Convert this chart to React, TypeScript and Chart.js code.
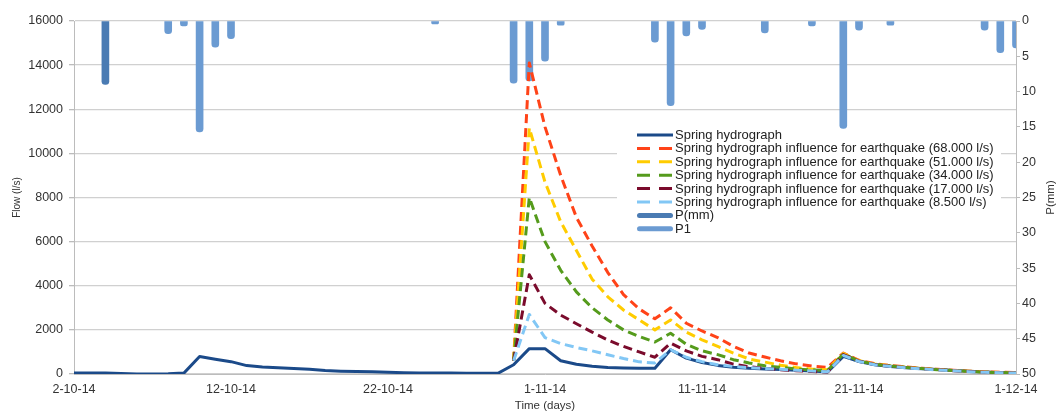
import React, { useEffect, useRef } from "react";
import { Chart, registerables } from "chart.js";

Chart.register(...registerables);

// ---------- categories ----------
const DATES: string[] = Array.from({ length: 61 }, (_, i) => {
  const d = new Date(2014, 9, 2 + i);
  return `${d.getDate()}-${d.getMonth() + 1}-${String(d.getFullYear()).slice(2)}`;
});
const TICK_LABELS = ["2-10-14", "12-10-14", "22-10-14", "1-11-14", "11-11-14", "21-11-14", "1-12-14"];

// ---------- series (l/s) ----------
const SPRING = [
  40, 45, 50, 20, 5, 5, 10, 40, 790, 670,
  560, 380, 320, 280, 250, 210, 160, 130, 110, 100,
  80, 60, 50, 40, 40, 35, 30, 30, 420, 1150,
  1150, 600, 440, 350, 290, 270, 260, 260, 1100, 720,
  520, 390, 310, 260, 230, 200, 170, 140, 90, 800,
  560, 420, 340, 280, 240, 200, 160, 120, 90, 60, 45,
];
const PRE = Array(28).fill(null);
const EQ68 = [...PRE,
  600, 14100, 11200, 9000, 7100, 5800, 4600, 3600, 2950, 2500,
  3000, 2300, 1950, 1650, 1250, 950, 770, 600, 460, 360,
  300, 950, 620, 470, 380, 320, 260, 210, 170, 130, 100, 80, 60];
const EQ51 = [...PRE,
  600, 11150, 8700, 6900, 5600, 4300, 3500, 2900, 2450, 2000,
  2450, 1900, 1550, 1250, 950, 680, 540, 400, 290, 220,
  190, 930, 600, 450, 370, 310, 250, 200, 160, 120, 90, 70, 55];
const EQ34 = [...PRE,
  600, 8000, 6000, 4700, 3720, 3000, 2450, 2000, 1700, 1450,
  1850, 1350, 1050, 880, 650, 500, 370, 300, 230, 180,
  160, 910, 590, 440, 360, 300, 245, 195, 155, 115, 85, 65, 50];
const EQ17 = [...PRE,
  600, 4500, 3200, 2670, 2280, 1900, 1540, 1250, 1000, 760,
  1400, 1050, 800, 650, 450, 330, 250, 190, 150, 110,
  90, 880, 580, 430, 350, 290, 240, 190, 150, 110, 80, 60, 45];
const EQ8 = [...PRE,
  600, 2700, 1650, 1380, 1200, 1050, 870, 700, 550, 500,
  1100, 760, 560, 420, 340, 290, 250, 210, 170, 140,
  100, 840, 570, 420, 340, 280, 230, 185, 145, 105, 75, 55, 40];

// ---------- precipitation (mm) ----------
const P_MM = [null, null, 9, ...Array(58).fill(null)];
const P1 = [
  null, null, null, null, null, null, 1.8, 0.7, 15.7, 3.7,
  2.5, null, null, null, null, null, null, null, null, null,
  null, null, null, 0.4, null, null, null, null, 8.8, 8.5,
  5.7, 0.6, null, null, null, null, null, 3.0, 12.0, 2.1,
  1.2, null, null, null, 1.7, null, null, 0.7, null, 15.2,
  1.3, null, 0.6, null, null, null, null, null, 1.3, 4.5, 3.8,
];

const FONT = "'Liberation Sans', Arial, sans-serif";
const TXT = "#333333";
const AXIS = "#bcbcbc";

const legendPlugin = {
  id: "boxLegend",
  beforeDatasetsDraw(chart: any) {
    const o = chart.options.plugins.boxLegend;
    const ctx = chart.ctx;
    ctx.save();
    ctx.fillStyle = "#ffffff";
    ctx.fillRect(o.x, o.y, o.w, o.h);
    ctx.font = `${o.fontSize}px ${FONT}`;
    ctx.textBaseline = "middle";
    ctx.textAlign = "left";
    chart.data.datasets.forEach((ds: any, i: number) => {
      const y = o.firstRow + i * o.rowH;
      ctx.beginPath();
      if (ds.type === "bar") {
        ctx.setLineDash([]);
        ctx.lineWidth = 5;
        ctx.lineCap = "round";
        ctx.strokeStyle = ds.backgroundColor;
        ctx.moveTo(o.lineX0 + 2.5, y);
        ctx.lineTo(o.lineX1 - 2.5, y);
      } else {
        ctx.setLineDash(ds.borderDash && ds.borderDash.length ? [13, 9] : []);
        ctx.lineWidth = 3;
        ctx.lineCap = "butt";
        ctx.strokeStyle = ds.borderColor;
        ctx.moveTo(o.lineX0, y);
        ctx.lineTo(o.lineX1, y);
      }
      ctx.stroke();
      ctx.fillStyle = "#222";
      ctx.fillText(ds.label, o.textX, y + 0.5);
    });
    ctx.restore();
  },
  afterDraw(chart: any) {
    const ctx = chart.ctx;
    const a = chart.chartArea;
    ctx.save();
    ctx.translate(1051, (a.top + a.bottom) / 2);
    ctx.rotate(-Math.PI / 2);
    ctx.font = `11.5px ${FONT}`;
    ctx.fillStyle = TXT;
    ctx.textAlign = "center";
    ctx.textBaseline = "middle";
    ctx.fillText("P(mm)", 0, 0);
    ctx.restore();
  },
};

export default function App() {
  const ref = useRef<HTMLCanvasElement>(null);
  useEffect(() => {
    const line = (label: string, data: any[], color: string, dashed: boolean, order: number) => ({
      type: "line" as const,
      label,
      data,
      borderColor: color,
      backgroundColor: color,
      borderWidth: 3,
      borderDash: dashed ? [9, 5] : [],
      borderCapStyle: "butt",
      borderJoinStyle: "round",
      pointRadius: 0,
      tension: 0,
      spanGaps: false,
      yAxisID: "y",
      order,
    });
    const bar = (label: string, data: any[], color: string, order: number) => ({
      type: "bar" as const,
      label,
      data,
      backgroundColor: color,
      borderWidth: 0,
      barThickness: 7,
      borderRadius: 3.5,
      grouped: false,
      yAxisID: "y2",
      order,
    });
    const chart = new Chart(ref.current!, {
      type: "line",
      data: {
        labels: DATES,
        datasets: [
          line("Spring hydrograph", SPRING, "#1b4a89", false, 7),
          line("Spring hydrograph influence for earthquake (68.000 l/s)", EQ68, "#ff4318", true, 6),
          line("Spring hydrograph influence for earthquake (51.000 l/s)", EQ51, "#ffcc00", true, 5),
          line("Spring hydrograph influence for earthquake (34.000 l/s)", EQ34, "#559b1c", true, 4),
          line("Spring hydrograph influence for earthquake (17.000 l/s)", EQ17, "#7a0b2c", true, 3),
          line("Spring hydrograph influence for earthquake (8.500 l/s)", EQ8, "#82c7f5", true, 2),
          bar("P(mm)", P_MM, "#4a7bb3", 20),
          bar("P1", P1, "#6b9bd2", 21),
        ] as any,
      },
      options: {
        animation: false,
        responsive: true,
        maintainAspectRatio: false,
        devicePixelRatio: 1,
        layout: { padding: { left: 0, right: 0, top: 21, bottom: 0 } },
        plugins: {
          legend: { display: false },
          tooltip: { enabled: false },
          boxLegend: {
            x: 617, y: 127, w: 384, h: 111,
            firstRow: 135, rowH: 13.4,
            lineX0: 637, lineX1: 673, textX: 675,
            fontSize: 13,
          },
        } as any,
        scales: {
          x: {
            type: "category",
            offset: false,
            grid: {
              display: true,
              drawOnChartArea: false,
              drawTicks: true,
              tickLength: 4,
              tickColor: (c: any) =>
                c.tick && TICK_LABELS.includes(DATES[c.index]) ? AXIS : "rgba(0,0,0,0)",
            },
            border: { display: true, color: AXIS, width: 1 },
            ticks: {
              autoSkip: false,
              maxRotation: 0,
              minRotation: 0,
              padding: 4,
              color: TXT,
              font: { family: FONT, size: 12.5 },
              callback: (_v: any, i: number) => (TICK_LABELS.includes(DATES[i]) ? DATES[i] : null),
            },
            title: {
              display: true,
              text: "Time (days)",
              color: TXT,
              font: { family: FONT, size: 11.5 },
              padding: { top: 0, bottom: 1 },
            },
            afterFit: (s: any) => {
              s.height = 40;
            },
          },
          y: {
            type: "linear",
            position: "left",
            min: 0,
            max: 16000,
            grid: { color: "#d0d0d0", lineWidth: 1.3, tickLength: 5, tickColor: AXIS },
            border: { display: true, color: AXIS, width: 1 },
            ticks: {
              stepSize: 2000,
              padding: 6,
              color: TXT,
              font: { family: FONT, size: 12.5 },
              callback: (v: any) => String(v),
            },
            title: {
              display: true,
              text: "Flow (l/s)",
              color: TXT,
              font: { family: FONT, size: 10 },
              padding: { top: 11, bottom: 0 },
            },
            afterFit: (s: any) => {
              s.width = 74;
            },
          },
          y2: {
            type: "linear",
            position: "right",
            reverse: true,
            min: 0,
            max: 50,
            grid: {
              display: true,
              drawOnChartArea: false,
              drawTicks: true,
              tickLength: 4,
              tickColor: AXIS,
            },
            border: { display: true, color: AXIS, width: 1 },
            ticks: {
              stepSize: 5,
              padding: 2,
              crossAlign: "near",
              color: TXT,
              font: { family: FONT, size: 12.5 },
              callback: (v: any) => String(v),
            },
            afterFit: (s: any) => {
              s.width = 42;
            },
          },
        },
      } as any,
      plugins: [legendPlugin],
    });
    return () => chart.destroy();
  }, []);
  return (
    <div style={{ position: "fixed", left: 0, top: 0, width: 1058, height: 414, background: "#fff" }}>
      <canvas ref={ref} />
    </div>
  );
}
